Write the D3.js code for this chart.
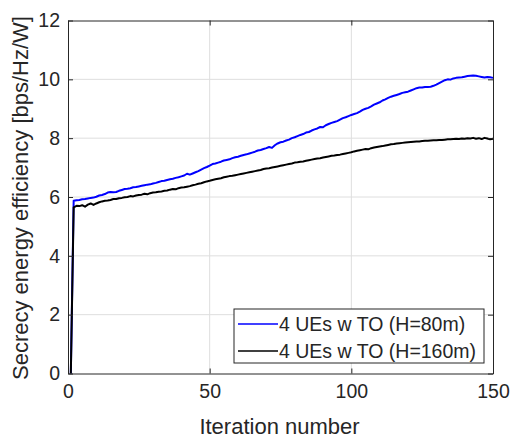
<!DOCTYPE html>
<html>
<head>
<meta charset="utf-8">
<script src="https://cdn.jsdelivr.net/npm/d3@7"></script>
<style>
  body { margin: 0; background: #fff; }
  svg text { font-family: "Liberation Sans", Arial, Helvetica, sans-serif; fill: #262626; }
</style>
</head>
<body>
<div id="chart"></div>
<script>
// Iteration values (x = 1..150)
const blueSeries = [
  0, 5.87, 5.89, 5.90, 5.92, 5.93, 5.95, 5.97, 5.98, 6.01,
  6.05, 6.07, 6.10, 6.15, 6.17, 6.16, 6.17, 6.21, 6.24, 6.27,
  6.28, 6.30, 6.33, 6.34, 6.36, 6.38, 6.40, 6.42, 6.43, 6.46,
  6.48, 6.51, 6.54, 6.55, 6.58, 6.60, 6.62, 6.65, 6.67, 6.70,
  6.73, 6.79, 6.76, 6.80, 6.84, 6.88, 6.93, 6.98, 7.02, 7.07,
  7.12, 7.14, 7.17, 7.20, 7.24, 7.26, 7.28, 7.32, 7.35, 7.37,
  7.40, 7.43, 7.45, 7.48, 7.51, 7.54, 7.58, 7.60, 7.63, 7.66,
  7.70, 7.67, 7.76, 7.82, 7.86, 7.88, 7.92, 7.95, 8.00, 8.03,
  8.07, 8.11, 8.14, 8.19, 8.21, 8.26, 8.30, 8.33, 8.38, 8.37,
  8.44, 8.48, 8.52, 8.55, 8.58, 8.63, 8.68, 8.71, 8.75, 8.79,
  8.82, 8.85, 8.90, 8.96, 9.00, 9.03, 9.08, 9.14, 9.18, 9.22,
  9.28, 9.32, 9.37, 9.41, 9.44, 9.47, 9.50, 9.54, 9.56, 9.58,
  9.62, 9.66, 9.70, 9.72, 9.72, 9.74, 9.74, 9.75, 9.78, 9.82,
  9.87, 9.92, 9.97, 10.00, 9.99, 10.03, 10.05, 10.06, 10.07, 10.09,
  10.11, 10.12, 10.13, 10.12, 10.10, 10.08, 10.06, 10.08, 10.07, 10.05
];
const blackSeries = [
  0, 5.65, 5.70, 5.69, 5.72, 5.67, 5.74, 5.78, 5.73, 5.78,
  5.82, 5.85, 5.87, 5.88, 5.90, 5.93, 5.93, 5.96, 5.97, 5.99,
  6.00, 6.03, 6.02, 6.05, 6.07, 6.08, 6.11, 6.09, 6.13, 6.15,
  6.16, 6.18, 6.19, 6.21, 6.22, 6.25, 6.27, 6.26, 6.30, 6.32,
  6.33, 6.35, 6.37, 6.40, 6.42, 6.45, 6.47, 6.50, 6.53, 6.55,
  6.58, 6.60, 6.62, 6.64, 6.67, 6.69, 6.71, 6.72, 6.74, 6.76,
  6.78, 6.80, 6.82, 6.84, 6.86, 6.88, 6.90, 6.92, 6.95, 6.97,
  6.98, 7.00, 7.02, 7.04, 7.06, 7.08, 7.10, 7.12, 7.14, 7.17,
  7.18, 7.20, 7.21, 7.23, 7.25, 7.27, 7.29, 7.31, 7.32, 7.34,
  7.36, 7.38, 7.40, 7.41, 7.43, 7.44, 7.46, 7.48, 7.50, 7.52,
  7.55, 7.57, 7.59, 7.61, 7.63, 7.62, 7.66, 7.68, 7.70, 7.72,
  7.73, 7.75, 7.77, 7.79, 7.80, 7.82, 7.83, 7.84, 7.85, 7.86,
  7.87, 7.88, 7.89, 7.89, 7.90, 7.91, 7.91, 7.92, 7.93, 7.93,
  7.94, 7.94, 7.95, 7.96, 7.96, 7.97, 7.98, 7.97, 7.99, 7.98,
  8.00, 7.99, 8.01, 7.98, 8.00, 7.97, 8.01, 7.99, 7.96, 7.98
];
const seriesNames = ["4 UEs w TO (H=80m)", "4 UEs w TO (H=160m)"];
const seriesColors = ["#0000ff", "#000000"];
const xTicks = [0, 50, 100, 150];
const yTicks = [0, 2, 4, 6, 8, 10, 12];

const width = 511, height = 441;
const marginLeft = 68, marginRight = 18, marginTop = 20.5, marginBottom = 67.5;

const x = d3.scaleLinear().domain([0, 150]).range([marginLeft, width - marginRight]);
const y = d3.scaleLinear().domain([0, 12]).range([height - marginBottom, marginTop]);

const svg = d3.select("#chart").append("svg")
  .attr("width", width)
  .attr("height", height);

// grid
svg.append("g")
  .selectAll("line")
  .data(xTicks.slice(1, -1))
  .join("line")
  .attr("x1", d => x(d)).attr("x2", d => x(d))
  .attr("y1", marginTop).attr("y2", height - marginBottom)
  .attr("stroke", "#dedede").attr("stroke-width", 1);

svg.append("g")
  .selectAll("line")
  .data(yTicks.slice(1, -1))
  .join("line")
  .attr("x1", marginLeft).attr("x2", width - marginRight)
  .attr("y1", d => y(d)).attr("y2", d => y(d))
  .attr("stroke", "#dedede").attr("stroke-width", 1);

// lines
const series = [blueSeries, blackSeries];
const line = d3.line()
  .x((d, i) => x(i + 1))
  .y(d => y(d));

svg.append("g")
  .selectAll("path")
  .data(series)
  .join("path")
  .attr("fill", "none")
  .attr("stroke", (d, i) => seriesColors[i])
  .attr("stroke-width", 2)
  .attr("stroke-linejoin", "round")
  .attr("d", line);

// axes (MATLAB style: inward ticks, box)
const axisColor = "#262626";
const tickLen = 5;

svg.append("g")
  .attr("transform", `translate(0,${height - marginBottom})`)
  .call(d3.axisBottom(x).tickValues(xTicks).tickSize(-tickLen).tickPadding(9).tickSizeOuter(0))
  .call(g => g.selectAll("text").attr("font-size", 19.5).attr("dy", "0.8em"));

svg.append("g")
  .attr("transform", `translate(0,${marginTop})`)
  .call(d3.axisTop(x).tickValues(xTicks).tickSize(-tickLen).tickFormat("").tickSizeOuter(0));

svg.append("g")
  .attr("transform", `translate(${marginLeft},0)`)
  .call(d3.axisLeft(y).tickValues(yTicks).tickSize(-tickLen).tickPadding(8).tickSizeOuter(0))
  .call(g => g.selectAll("text").attr("font-size", 19.5));

svg.append("g")
  .attr("transform", `translate(${width - marginRight},0)`)
  .call(d3.axisRight(y).tickValues(yTicks).tickSize(-tickLen).tickFormat("").tickSizeOuter(0));

svg.selectAll(".domain").attr("stroke", axisColor).attr("stroke-width", 1);
svg.selectAll(".tick line").attr("stroke", axisColor);
svg.selectAll(".tick text").attr("fill", axisColor).attr("font-family", "'Liberation Sans', Arial, sans-serif");

// axis labels
svg.append("text")
  .attr("x", x(75) - 1)
  .attr("y", 434)
  .attr("text-anchor", "middle")
  .attr("font-size", 22)
  .text("Iteration number");

svg.append("text")
  .attr("transform", `translate(28,${(marginTop + height - marginBottom) / 2 + 1}) rotate(-90)`)
  .attr("text-anchor", "middle")
  .attr("font-size", 22)
  .text("Secrecy energy efficiency [bps/Hz/W]");

// legend
const legend = svg.append("g").attr("transform", "translate(234,309)");
legend.append("rect")
  .attr("width", 250).attr("height", 54)
  .attr("fill", "#fff").attr("stroke", axisColor).attr("stroke-width", 1);

const items = legend.selectAll("g.item")
  .data(seriesNames)
  .join("g")
  .attr("class", "item")
  .attr("transform", (d, i) => `translate(0,${15 + i * 27})`);

items.append("line")
  .attr("x1", 4).attr("x2", 44)
  .attr("stroke", (d, i) => seriesColors[i])
  .attr("stroke-width", 1.5);

items.append("text")
  .attr("x", 45)
  .attr("dy", "0.35em")
  .attr("font-size", 19.5)
  .text(d => d);
</script>
</body>
</html>
